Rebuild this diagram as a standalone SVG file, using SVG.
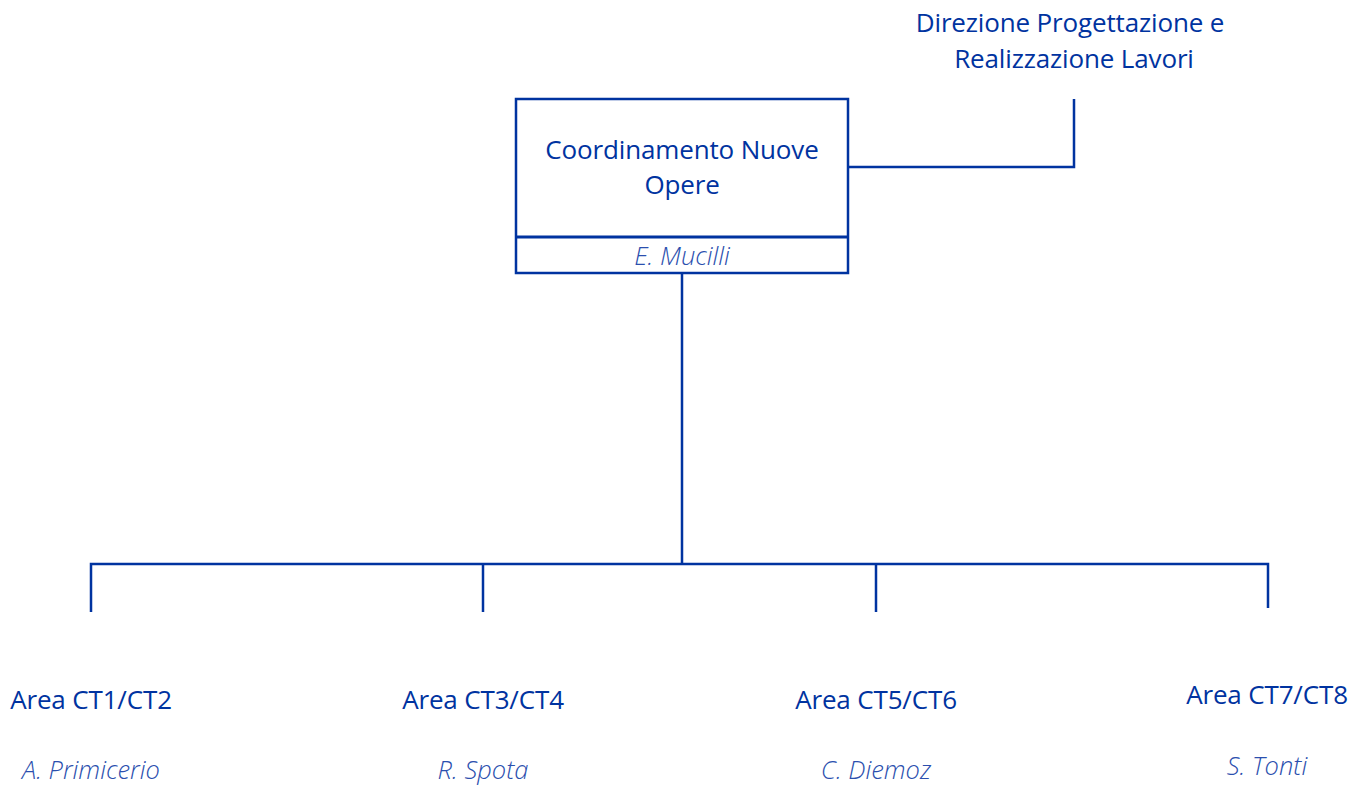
<svg xmlns="http://www.w3.org/2000/svg" width="1363" height="793" viewBox="0 0 1363 793">
<style>
.t{font-family:"Open Sans","Noto Sans",sans-serif;font-size:26px;fill:#0033a0;text-anchor:middle;letter-spacing:-0.15px}
.n{font-family:"Open Sans","Noto Sans",sans-serif;font-size:25.5px;font-style:italic;font-weight:300;fill:#2b4fae;text-anchor:middle}
.box{fill:#fff;stroke:#0033a0;stroke-width:2.5}
.c{fill:none;stroke:#0033a0;stroke-width:2.5}
</style>
<rect width="1363" height="793" fill="#fff"/>
<g id="connectors">
<path class="c" d="M848 167 H1074 V99"/>
<path class="c" d="M682 273 V564"/>
<path class="c" d="M91 612 V564 H1268 V608"/>
<path class="c" d="M483 564 V612"/>
<path class="c" d="M876 564 V612"/>
</g>
<g id="node-coord">
<rect class="box" x="516" y="99" width="332" height="174"/>
<line x1="516" y1="237" x2="848" y2="237" stroke="#0033a0" stroke-width="3"/>
<text class="t" x="682" y="159">Coordinamento Nuove</text>
<text class="t" x="682" y="194">Opere</text>
<text class="n" x="682" y="265">E. Mucilli</text>
</g>
<g id="node-direzione">
<text class="t" x="1070" y="32">Direzione Progettazione e</text>
<text class="t" x="1074" y="68">Realizzazione Lavori</text>
</g>
<g id="node-ct12">
<text class="t" x="91" y="709">Area CT1/CT2</text>
<text class="n" x="91" y="779">A. Primicerio</text>
</g>
<g id="node-ct34">
<text class="t" x="483" y="709">Area CT3/CT4</text>
<text class="n" x="483" y="779">R. Spota</text>
</g>
<g id="node-ct56">
<text class="t" x="876" y="709">Area CT5/CT6</text>
<text class="n" x="876" y="779">C. Diemoz</text>
</g>
<g id="node-ct78">
<text class="t" x="1267" y="704">Area CT7/CT8</text>
<text class="n" x="1267" y="775">S. Tonti</text>
</g>
</svg>
